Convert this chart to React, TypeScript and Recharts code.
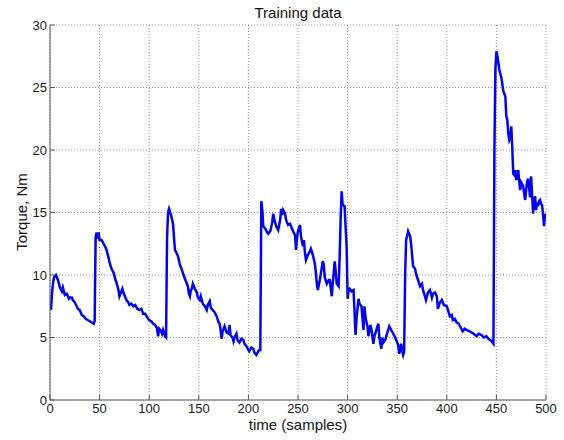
import React from 'react';
import { LineChart, Line, XAxis, YAxis, CartesianGrid } from 'recharts';

// sample index (x) and torque in Nm (y)
const samples = [
  1, 2, 3, 4, 6, 8, 10, 12, 13, 15, 17, 19, 20, 22, 23, 25, 27, 28, 30, 32, 34, 36, 38, 40, 42, 44, 45,
  46, 47, 48, 49, 50, 52, 54, 56, 57, 59, 60, 62, 64, 66, 67, 69, 70, 72, 73, 74, 76, 77, 79, 80, 82, 84, 86, 88, 90,
  92, 94, 96, 98, 100, 102, 104, 106, 108, 109, 110, 112, 113, 114, 116, 117,
  118, 119, 120, 122, 124, 125, 126, 128, 129, 131, 133, 135, 136, 138, 139, 140, 141, 142, 143, 144, 146, 148, 149,
  151, 152, 154, 156, 158, 159, 161, 162, 164, 166, 168, 170, 171, 172, 173, 174, 176, 178, 180, 181, 182, 184, 185,
  186, 188, 189, 191, 193, 195, 196, 198, 200, 201, 203, 205, 206, 208, 210, 211, 212,
  213, 214, 215, 217, 219, 220, 222, 224, 225, 226, 228, 230, 232, 233, 234, 235, 237, 238, 240, 242, 243, 245, 247,
  248, 249, 250, 252, 253, 255, 256, 257, 258, 260, 262, 263, 265, 267, 268, 269, 270, 272, 274, 275, 276, 277, 279,
  281, 282, 283, 284, 285, 287, 288, 289, 291, 292, 293, 294, 295, 297, 298, 299, 300, 301, 302, 304, 306, 307, 308,
  309, 311, 312, 314, 316, 317, 318, 320, 321, 322, 323, 324, 326, 327, 329, 331, 332, 334, 335, 336, 338, 340, 342,
  344, 346, 348, 349, 351, 352, 354, 355, 356, 357,
  358, 359, 361, 363, 364, 366, 368, 369, 371, 373, 375, 376, 378, 379, 381, 383, 385, 386, 388, 390, 391, 393, 395,
  397, 400, 402, 403, 405, 406, 408, 410, 412, 414, 416, 418, 420, 423, 425, 427, 430, 432, 435, 437, 440, 442, 445, 447,
  448, 449, 450, 451, 453, 455, 457, 459, 460, 461, 462, 463, 464, 465, 466, 467, 468, 469, 470, 471, 472, 473, 474,
  475, 477, 478, 479, 480, 481, 482, 483, 484, 485, 486, 487, 488, 489, 490, 491, 492, 493, 494, 495, 496, 497, 498, 499,
];

const torque = [
  7.2, 8.5, 9.3, 9.8, 10.0, 9.6, 9.0, 8.7, 9.0, 8.4, 8.5, 8.1, 8.2, 8.2, 8.0, 7.8, 7.5, 7.3, 7.2, 6.8, 6.7, 6.5, 6.4, 6.3, 6.2, 6.1, 6.3,
  13.0, 13.4, 12.9, 13.4, 12.8, 12.8, 12.5, 12.2, 12.0, 11.4, 11.0, 10.5, 10.2, 9.6, 9.4, 8.8, 8.3, 8.7, 8.9, 8.6, 8.2, 8.0, 7.8, 7.6, 7.7, 7.5, 7.6, 7.3, 7.2,
  7.3, 6.9, 6.9, 6.6, 6.4, 6.3, 6.1, 6.0, 5.7, 5.1, 5.7, 5.5, 5.3, 5.6, 5.1, 5.0,
  13.0, 15.0, 15.3, 14.8, 14.1, 13.0, 12.0, 11.7, 11.5, 10.8, 10.4, 9.9, 9.7, 9.3, 9.1, 8.5, 8.3, 8.8, 8.9, 9.3, 8.9, 8.6, 8.2,
  8.0, 8.3, 7.7, 7.5, 7.2, 7.6, 7.9, 7.4, 7.2, 7.0, 6.7, 6.2, 6.1, 5.6, 4.9, 5.5, 5.9, 5.4, 5.3, 6.0, 5.2, 5.0, 4.7,
  5.0, 5.3, 4.8, 4.6, 4.9, 4.8, 4.5, 4.3, 4.0, 3.9, 4.2, 4.1, 3.8, 3.6, 3.9, 4.0, 4.0,
  15.9, 15.2, 13.9, 13.7, 13.4, 13.3, 13.5, 14.2, 14.9, 14.5, 13.9, 13.6, 14.4, 15.3, 14.8, 15.2, 14.9, 14.4, 14.0, 14.1, 13.9, 13.5, 13.2,
  12.0, 13.0, 13.5, 14.0, 13.1, 12.3, 12.8, 11.8, 11.2, 11.6, 11.9, 12.1, 11.6, 10.9, 10.2, 9.3, 8.8, 9.6, 10.6, 11.1, 10.8, 9.8, 9.3,
  9.6, 9.6, 9.0, 8.3, 9.3, 11.1, 10.3, 9.3, 9.1, 11.5, 14.5, 16.7, 15.6, 15.5, 13.8, 12.3, 8.1, 8.8, 8.9, 8.7, 8.8, 7.0, 5.2,
  6.5, 8.1, 7.7, 7.5, 5.6, 7.5, 6.6, 5.9, 5.1, 5.6, 6.0, 5.7, 4.5, 5.1, 5.6, 6.1, 5.0, 4.1, 5.0, 4.6, 4.8, 5.4, 5.9,
  5.6, 5.3, 5.0, 4.8, 4.4, 3.7, 4.5, 3.9, 3.6, 3.9,
  10.0, 12.8, 13.5, 13.1, 12.5, 10.7, 10.5, 10.1, 9.6, 9.1, 9.3, 8.8, 8.3, 8.0, 8.6, 8.8, 8.2, 8.5, 8.6, 8.3, 7.3, 7.8, 8.0,
  7.6, 7.5, 7.0, 6.7, 6.8, 6.4, 6.5, 6.2, 6.1, 5.8, 5.5, 5.7, 5.6, 5.5, 5.4, 5.3, 5.1, 5.3, 5.2, 5.0, 5.1, 4.9, 4.7, 4.5,
  20.0, 26.5, 27.9, 27.5, 26.4, 25.8, 24.7, 24.3, 22.7, 22.4, 21.3, 20.8, 21.0, 21.9, 20.2, 18.1, 18.0, 18.4, 17.6, 17.8, 18.4, 17.5, 16.8,
  17.4, 17.1, 16.5, 16.0, 16.8, 17.5, 17.7, 17.0, 16.2, 17.9, 16.4, 14.9, 15.8, 16.3, 15.2, 15.8, 15.5, 15.9, 16.0, 15.7, 15.6, 14.9, 13.9, 14.9,
];

const xTicks = [0, 50, 100, 150, 200, 250, 300, 350, 400, 450, 500];
const yTicks = [0, 5, 10, 15, 20, 25, 30];

const data = samples.map((t, i) => ({ t, torque: torque[i] }));

const font = '"Liberation Sans", Arial, sans-serif';
const axisColor = '#5a5a5a';

export default function App() {
  return (
    <div style={{ position: 'absolute', left: 0, top: 0, width: 564, height: 440, background: '#fff', fontFamily: font }}>
      <LineChart width={564} height={440} data={data} margin={{ top: 25, right: 18, bottom: 0, left: 0 }}>
        <CartesianGrid stroke="#8f8f8f" strokeDasharray="1 2" />
        <XAxis
          dataKey="t"
          type="number"
          domain={[0, 500]}
          ticks={xTicks}
          height={40}
          stroke={axisColor}
          tickSize={-5}
          tickMargin={9}
          tick={{ fill: '#1a1a1a', fontSize: 13, fontFamily: font }}
          interval={0}
          allowDataOverflow
        />
        <XAxis
          xAxisId="top"
          dataKey="t"
          type="number"
          orientation="top"
          domain={[0, 500]}
          ticks={xTicks}
          height={0}
          stroke={axisColor}
          tickSize={-5}
          tick={false}
          interval={0}
        />
        <YAxis
          type="number"
          domain={[0, 30]}
          ticks={yTicks}
          width={50}
          stroke={axisColor}
          tickSize={-5}
          tickMargin={8}
          tick={{ fill: '#1a1a1a', fontSize: 13, fontFamily: font }}
          interval={0}
        />
        <YAxis
          yAxisId="right"
          type="number"
          orientation="right"
          domain={[0, 30]}
          ticks={yTicks}
          width={0}
          stroke={axisColor}
          tickSize={-5}
          tick={false}
          interval={0}
        />
        <Line
          type="linear"
          dataKey="torque"
          stroke="#0000ff"
          strokeWidth={2.5}
          dot={false}
          isAnimationActive={false}
        />
      </LineChart>
      <div style={{ position: 'absolute', left: 50, width: 496, top: 4, textAlign: 'center', fontSize: 15, lineHeight: '17px', color: '#111' }}>
        Training data
      </div>
      <div style={{ position: 'absolute', left: 50, width: 496, top: 416, textAlign: 'center', fontSize: 15, lineHeight: '17px', color: '#111' }}>
        time (samples)
      </div>
      <div
        style={{
          position: 'absolute',
          left: 22 - 100,
          top: 212 - 9,
          width: 200,
          height: 18,
          lineHeight: '18px',
          textAlign: 'center',
          fontSize: 15,
          color: '#111',
          transform: 'rotate(-90deg)',
        }}
      >
        Torque, Nm
      </div>
    </div>
  );
}
